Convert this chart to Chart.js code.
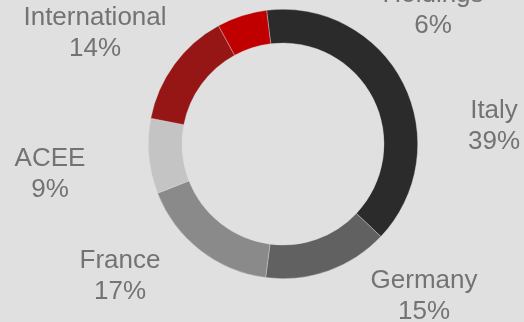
<!DOCTYPE html>
<html>
  <head>
    <meta charset="UTF-8" />
    <title>Revenue by Division</title>
    <style>
      body {
        margin: 0;
        background: #e0e0e0;
      }
      #wrap {
        width: 524px;
        height: 322px;
      }
    </style>
  </head>
  <body>
    <div id="wrap"><canvas id="chart" width="524" height="322"></canvas></div>

    <script src="https://cdn.jsdelivr.net/npm/chart.js"></script>
    <script>
      const divisions = ["Italy", "Germany", "France", "ACEE", "International", "Holdings"];
      const shares = [39, 15, 17, 9, 14, 6];
      const sliceColors = ["#2b2b2b", "#616161", "#8a8a8a", "#c4c4c4", "#961616", "#c00000"];

      // where each label's first baseline sits, relative to the ring centre
      const labelSpots = [
        [211, -26],
        [141, 144],
        [-163, 124],
        [-233, 22],
        [-188, -119],
        [150, -142],
      ];

      const outsideLabels = {
        id: "outsideLabels",
        afterDraw(chart) {
          const ctx = chart.ctx;
          const arcs = chart.getDatasetMeta(0).data;
          ctx.save();
          ctx.fillStyle = "#737373";
          ctx.font = '26px "Liberation Sans", Arial, sans-serif';
          ctx.textAlign = "center";
          ctx.textBaseline = "alphabetic";
          arcs.forEach((arc, i) => {
            const x = arc.x + labelSpots[i][0];
            const y = arc.y + labelSpots[i][1];
            ctx.fillText(divisions[i], x, y);
            ctx.fillText(shares[i] + "%", x, y + 31);
          });
          ctx.restore();
        },
      };

      new Chart(document.getElementById("chart"), {
        type: "doughnut",
        data: {
          labels: divisions,
          datasets: [
            {
              data: shares,
              backgroundColor: sliceColors,
              borderColor: "rgba(224,224,224,0.6)",
              borderWidth: 0.6,
            },
          ],
        },
        options: {
          responsive: false,
          animation: false,
          cutout: "75%",
          rotation: -7,
          layout: {
            padding: { left: 148, right: 106, top: 9, bottom: 43 },
          },
          plugins: {
            legend: { display: false },
            tooltip: { enabled: false },
          },
        },
        plugins: [outsideLabels],
      });
    </script>
  </body>
</html>
